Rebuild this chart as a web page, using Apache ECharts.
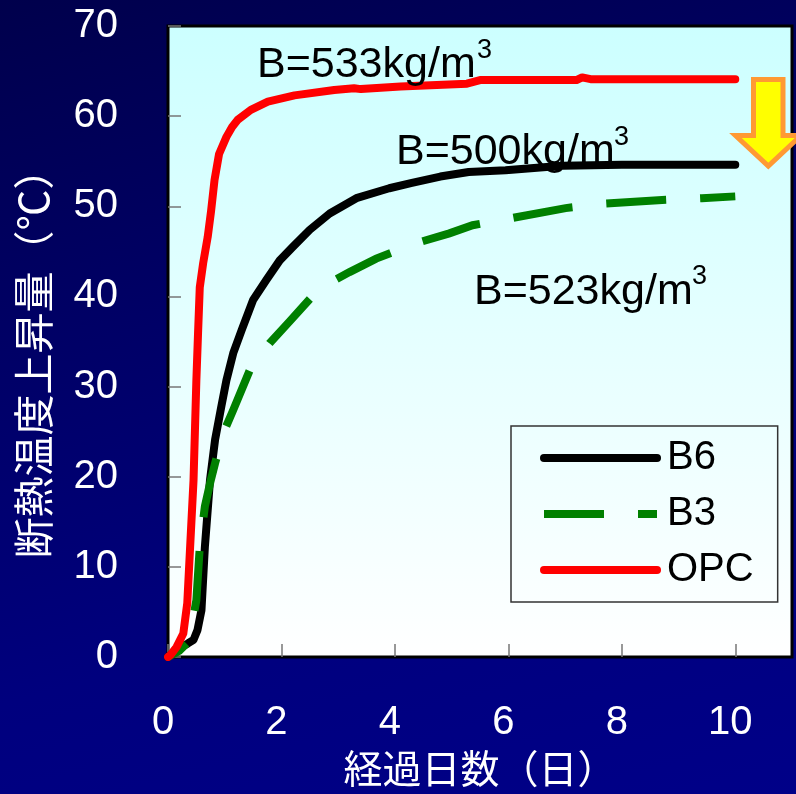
<!DOCTYPE html>
<html>
<head>
<meta charset="utf-8">
<script src="https://cdn.jsdelivr.net/npm/echarts@6/dist/echarts.min.js"></script>
<style>
html,body{margin:0;padding:0;}
body{width:796px;height:794px;overflow:hidden;
background:linear-gradient(165deg,#00004c 0%,#000066 35%,#00007e 70%,#000088 100%);}
#c{width:796px;height:794px;}
</style>
</head>
<body>
<div id="c"></div>
<script>
// ---- data ----
const seriesNames = ['B6', 'B3', 'OPC'];
const xTicks = [0, 2, 4, 6, 8, 10];
const yTicks = [0, 10, 20, 30, 40, 50, 60, 70];

const b6Days = [0, 0.1, 0.21, 0.35, 0.45, 0.52, 0.59, 0.65, 0.74, 0.83, 0.94, 1.03, 1.15, 1.30, 1.50, 1.73, 1.97, 2.2, 2.5, 2.85, 3.32, 3.9, 4.3, 4.8, 5.3, 5.95, 6.95, 8, 10];
const b6Temp = [0, 0.5, 1.0, 1.5, 1.9, 3.0, 5.2, 12.2, 19.6, 24.1, 27.8, 30.7, 33.7, 36.3, 39.6, 41.8, 44.0, 45.5, 47.4, 49.2, 50.9, 52.0, 52.6, 53.3, 53.8, 54.0, 54.5, 54.6, 54.6];

const b3Days = [0, 0.2, 0.33, 0.42, 0.50, 0.56, 0.65, 0.75, 0.83, 0.91, 1.0, 1.15, 1.44, 1.79, 2.14, 2.67, 3.2, 3.67, 4.37, 4.96, 5.37, 6.07, 7.01, 7.71, 8.71, 9.41, 10.0];
const b3Temp = [0, 0.7, 1.5, 3.5, 6.3, 12.2, 16.7, 19.5, 21.5, 23.3, 25.2, 27.4, 31.8, 34.8, 37.2, 40.9, 42.7, 44.2, 45.9, 47.0, 47.9, 48.7, 49.8, 50.3, 50.7, 50.9, 51.1];

const opcDays = [0, 0.04, 0.15, 0.27, 0.34, 0.39, 0.45, 0.5, 0.53, 0.56, 0.62, 0.7, 0.76, 0.82, 0.9, 1.03, 1.13, 1.23, 1.46, 1.76, 2.23, 2.93, 3.28, 3.4, 4.1, 5.27, 5.5, 7.2, 7.3, 7.45, 10];
const opcTemp = [0, 0.2, 1.1, 2.6, 6.0, 12.2, 19.6, 30.7, 36.0, 41.0, 43.7, 46.6, 49.5, 52.9, 55.8, 57.7, 58.8, 59.6, 60.7, 61.6, 62.3, 62.9, 63.1, 63.0, 63.3, 63.6, 64.0, 64.0, 64.3, 64.1, 64.1];

const annotations = ['B=533kg/m', 'B=500kg/m', 'B=523kg/m'];
const annotationSup = '3';
const xName = '経過日数（日）';
const yName = '断熱温度上昇量（℃）';

// ---- chart ----
const LATIN = '"Liberation Sans", Arial, sans-serif';
const CJK = '"Noto Sans CJK JP", "Liberation Sans", sans-serif';
const pairs = (xs, ys) => xs.map((x, i) => [x, ys[i]]);

const chart = echarts.init(document.getElementById('c'), null, {renderer: 'canvas'});

const annPos = [
  {x: 257, y: 65, sx: 477, sy: 51},
  {x: 396, y: 152, sx: 614, sy: 138},
  {x: 474, y: 292, sx: 692, sy: 277}
];
const graphics = [];
annotations.forEach((t, i) => {
  const p = annPos[i];
  graphics.push({type: 'text', z: 100, x: p.x, y: p.y,
    style: {text: t, fill: '#000', font: '43px ' + LATIN, verticalAlign: 'middle', align: 'left'}});
  graphics.push({type: 'text', z: 100, x: p.sx, y: p.sy,
    style: {text: annotationSup, fill: '#000', font: '27px ' + LATIN, verticalAlign: 'middle', align: 'left'}});
});
graphics.push({type: 'polygon', z: 100,
  shape: {points: [[753.5,79.5],[783,79.5],[783,135.5],[801,135.5],[768.3,166],[735.5,135.5],[753.5,135.5]]},
  style: {fill: '#ffff00', stroke: '#ff9933', lineWidth: 5, lineJoin: 'miter'}});

const tickStyle = {show: true, inside: true, length: 13, lineStyle: {color: '#777', width: 1.5}};

const option = {
  backgroundColor: 'transparent',
  animation: false,
  textStyle: {fontFamily: LATIN},
  grid: {
    left: 168, top: 26, right: 4, bottom: 137,
    show: true, borderColor: '#000', borderWidth: 3,
    backgroundColor: {type: 'linear', x: 0, y: 0, x2: 0, y2: 1,
      colorStops: [{offset: 0, color: '#ccffff'}, {offset: 1, color: '#ffffff'}]}
  },
  xAxis: {
    type: 'value', min: 0, max: 11, interval: 2,
    axisLine: {show: false},
    axisTick: tickStyle,
    splitLine: {show: false},
    axisLabel: {color: '#fff', fontSize: 40, margin: 46, fontFamily: LATIN, showMaxLabel: false,
      padding: [0, 10, 0, 0],
      formatter: v => (xTicks.indexOf(v) >= 0 ? String(v) : '')},
    name: xName, nameLocation: 'middle', nameGap: 92,
    nameTextStyle: {color: '#fff', fontSize: 39, fontFamily: CJK}
  },
  yAxis: {
    type: 'value', min: 0, max: 70, interval: 10,
    axisLine: {show: false},
    axisTick: tickStyle,
    splitLine: {show: false},
    axisLabel: {color: '#fff', fontSize: 40, margin: 50, fontFamily: LATIN,
      padding: [8, 0, 0, 0],
      formatter: v => (yTicks.indexOf(v) >= 0 ? String(v) : '')},
    name: yName, nameLocation: 'middle', nameGap: 114, nameRotate: 90,
    nameTextStyle: {color: '#fff', fontSize: 41, fontFamily: CJK, padding: [0, 24, 0, 0]}
  },
  legend: {
    data: seriesNames,
    orient: 'vertical', left: 511, top: 426,
    padding: [12, 24, 12, 29], itemGap: 16, itemWidth: 113, itemHeight: 40,
    borderColor: '#333', borderWidth: 1.5, backgroundColor: 'transparent',
    selectedMode: false,
    textStyle: {fontSize: 40, color: '#000', fontFamily: LATIN, padding: [0, 0, 0, 5]},
    itemStyle: {opacity: 0, borderWidth: 0},
    lineStyle: {width: 8, dashOffset: 0}
  },
  series: [
    {name: seriesNames[0], type: 'line', symbol: 'none', showSymbol: false,
     data: pairs(b6Days, b6Temp), z: 2,
     lineStyle: {color: '#000', width: 8, cap: 'round', join: 'round'}, itemStyle: {color: '#000'}},
    {name: seriesNames[1], type: 'line', symbol: 'none', showSymbol: false,
     data: pairs(b3Days, b3Temp), z: 3,
     lineStyle: {color: '#008000', width: 8, type: [60, 34], dashOffset: 37, cap: 'butt', join: 'miter'}, itemStyle: {color: '#008000'}},
    {name: seriesNames[2], type: 'line', symbol: 'none', showSymbol: false,
     data: pairs(opcDays, opcTemp), z: 4,
     lineStyle: {color: '#ff0000', width: 8, cap: 'round', join: 'round'}, itemStyle: {color: '#ff0000'}}
  ],
  graphic: graphics
};
chart.setOption(option);
</script>
</body>
</html>
